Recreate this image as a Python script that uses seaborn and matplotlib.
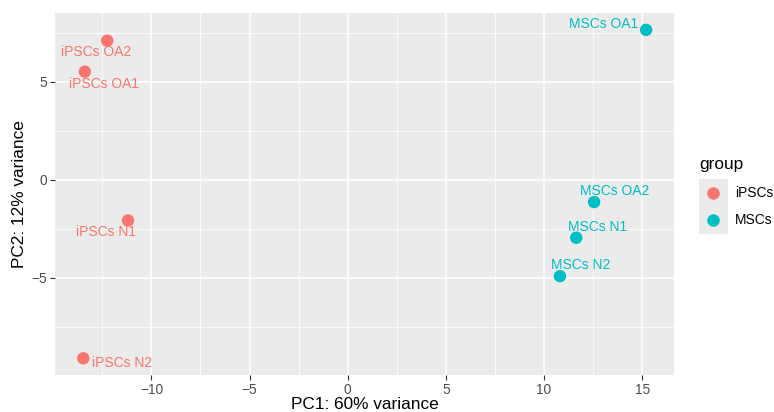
import matplotlib
matplotlib.use("Agg")
import matplotlib.pyplot as plt
import seaborn as sns
import pandas as pd
from matplotlib.lines import Line2D
from matplotlib.patches import Rectangle

samples = ["iPSCs OA2", "iPSCs OA1", "iPSCs N1", "iPSCs N2",
           "MSCs OA1", "MSCs OA2", "MSCs N1", "MSCs N2"]
groups = ["iPSCs", "iPSCs", "iPSCs", "iPSCs", "MSCs", "MSCs", "MSCs", "MSCs"]
pc1 = [-12.25, -13.39, -11.19, -13.47, 15.2, 12.55, 11.64, 10.81]
pc2 = [7.09, 5.51, -2.08, -9.11, 7.64, -1.14, -2.96, -4.92]
group_order = ["iPSCs", "MSCs"]
palette = {"iPSCs": "#F8766D", "MSCs": "#00BFC4"}
# label offsets (points) mimicking ggrepel placement
label_dx = [-8, 14, -16, 28, -31, 15, 15, 15]
label_dy = [-8, -9, -8, -3.5, 4, 8, 8, 8]

df = pd.DataFrame({"sample": samples, "group": groups, "PC1": pc1, "PC2": pc2})

sns.set_theme(style="darkgrid")
plt.rcParams["font.family"] = ["Liberation Sans", "DejaVu Sans"]

fig = plt.figure(figsize=(7.74, 4.12), dpi=100)
ax = fig.add_axes([55 / 774, 1 - 375 / 412, (674 - 55) / 774, (375 - 13) / 412])
ax.set_facecolor("#EBEBEB")

sns.scatterplot(data=df, x="PC1", y="PC2", hue="group", hue_order=group_order,
                palette=palette, s=80, edgecolor="none", legend=False, ax=ax, zorder=3)

for name, g, x, y, dx, dy in zip(samples, groups, pc1, pc2, label_dx, label_dy):
    ax.annotate(name, (x, y), xytext=(dx, dy), textcoords="offset points",
                ha="center", va="center", fontsize=10, color=palette[g], zorder=4)

ax.set_xlim(-14.91, 16.62)
ax.set_ylim(-9.96, 8.5)
ax.set_xticks([-10, -5, 0, 5, 10, 15])
ax.set_yticks([-5, 0, 5])
ax.set_xticks([-12.5, -7.5, -2.5, 2.5, 7.5, 12.5], minor=True)
ax.set_yticks([-7.5, -2.5, 2.5, 7.5], minor=True)
ax.set_xticklabels(["\u221210", "\u22125", "0", "5", "10", "15"])
ax.set_yticklabels(["\u22125", "0", "5"])
ax.grid(which="major", color="white", linewidth=1.1)
ax.grid(which="minor", color="white", linewidth=0.55)
for s in ax.spines.values():
    s.set_visible(False)
ax.tick_params(axis="both", which="major", length=3.5, width=0.8, color="#333333",
               labelsize=9.9, labelcolor="#4D4D4D", pad=2, bottom=True, left=True)
ax.tick_params(axis="both", which="minor", length=0)
ax.set_xlabel("PC1: 60% variance", fontsize=12.4, color="black", labelpad=0)
ax.set_ylabel("PC2: 12% variance", fontsize=12.4, color="black", labelpad=3)
ax.xaxis.set_label_coords(0.5, -(409 - 375) / (375 - 13), transform=ax.transAxes)
ax.xaxis.label.set_va("baseline")

# legend
fig.patches.append(Rectangle((699 / 774, 1 - 234 / 412), 29 / 774, 55 / 412,
                             transform=fig.transFigure, facecolor="#EBEBEB",
                             edgecolor="none", zorder=0))
fig.text(699 / 774, 1 - 165 / 412, "group", fontsize=12.4, color="black",
         ha="left", va="center")
for i, g in enumerate(group_order):
    yk = 1 - (193 + 27 * i) / 412
    fig.add_artist(Line2D([713 / 774], [yk], marker="o", markersize=8,
                          color=palette[g], linestyle="none",
                          transform=fig.transFigure))
    fig.text(735 / 774, yk, g, fontsize=9.9, color="black", ha="left", va="center")

fig.savefig("out.png", dpi=100)
